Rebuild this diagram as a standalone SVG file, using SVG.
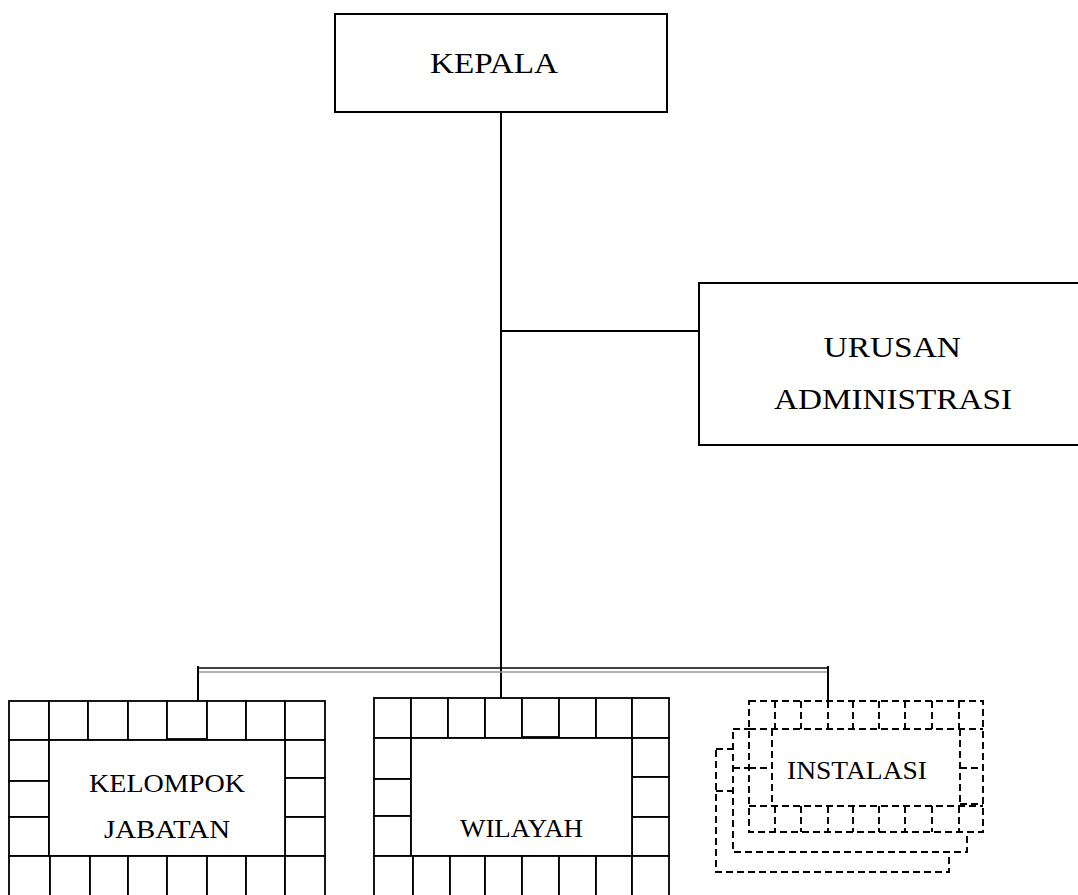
<svg xmlns="http://www.w3.org/2000/svg" width="1078" height="895" viewBox="0 0 1078 895">
<style>
.box{fill:#fff;stroke:#000;stroke-width:2}
.cell{fill:#fff;stroke:#000;stroke-width:1.8}
.dash{fill:#fff;stroke:#000;stroke-width:1.9;stroke-dasharray:7 4}
.dl{fill:none;stroke:#000;stroke-width:1.9;stroke-dasharray:7 4}
.ln{fill:none;stroke:#000;stroke-width:2}
.t{font-family:"Liberation Serif","Times New Roman",serif;fill:#000}
</style>
<rect width="1078" height="895" fill="#fff"/>
<g id="connectors">
  <line class="ln" x1="501" y1="112" x2="501" y2="698"/>
  <line class="ln" x1="501" y1="331" x2="699" y2="331"/>
  <line x1="198" y1="668" x2="828" y2="668" stroke="#000" stroke-width="1.3"/>
  <line x1="199" y1="672" x2="827" y2="672" stroke="#999" stroke-width="1.6"/>
  <line class="ln" x1="198" y1="666" x2="198" y2="701"/>
  <line class="ln" x1="828" y1="666" x2="828" y2="701"/>
</g>
<g id="kepala">
  <rect class="box" x="335" y="14" width="332" height="98"/>
  <text class="t" x="430" y="73" font-size="29" textLength="128" lengthAdjust="spacingAndGlyphs">KEPALA</text>
</g>
<g id="urusan-administrasi">
  <rect class="box" x="699" y="283" width="390" height="162"/>
  <text class="t" x="823.5" y="357" font-size="30" textLength="137.5" lengthAdjust="spacingAndGlyphs">URUSAN</text>
  <text class="t" x="774" y="409" font-size="30" textLength="238" lengthAdjust="spacingAndGlyphs">ADMINISTRASI</text>
</g>
<g id="kelompok-jabatan">
  <rect class="cell" x="9" y="701" width="40" height="39"/>
  <rect class="cell" x="49" y="701" width="39" height="39"/>
  <rect class="cell" x="88" y="701" width="40" height="39"/>
  <rect class="cell" x="128" y="701" width="39" height="39"/>
  <rect class="cell" x="167" y="701" width="40" height="38"/>
  <rect class="cell" x="207" y="701" width="39" height="39"/>
  <rect class="cell" x="246" y="701" width="39" height="39"/>
  <rect class="cell" x="285" y="701" width="40" height="39"/>
  <rect class="cell" x="9" y="740" width="40" height="41"/>
  <rect class="cell" x="9" y="781" width="40" height="36"/>
  <rect class="cell" x="9" y="817" width="40" height="39"/>
  <rect class="cell" x="285" y="740" width="40" height="38"/>
  <rect class="cell" x="285" y="778" width="40" height="39"/>
  <rect class="cell" x="285" y="817" width="40" height="39"/>
  <rect class="cell" x="49" y="740" width="236" height="116"/>
  <rect class="cell" x="9" y="856" width="41" height="50"/>
  <rect class="cell" x="50" y="856" width="40" height="50"/>
  <rect class="cell" x="90" y="856" width="38" height="50"/>
  <rect class="cell" x="128" y="856" width="39" height="50"/>
  <rect class="cell" x="167" y="856" width="40" height="50"/>
  <rect class="cell" x="207" y="856" width="39" height="50"/>
  <rect class="cell" x="246" y="856" width="39" height="50"/>
  <rect class="cell" x="285" y="856" width="40" height="50"/>
  <text class="t" x="89" y="792" font-size="25" textLength="156" lengthAdjust="spacingAndGlyphs">KELOMPOK</text>
  <text class="t" x="104" y="838" font-size="25" textLength="126" lengthAdjust="spacingAndGlyphs">JABATAN</text>
</g>
<g id="wilayah">
  <rect class="cell" x="374" y="698" width="37" height="40"/>
  <rect class="cell" x="411" y="698" width="37" height="40"/>
  <rect class="cell" x="448" y="698" width="37" height="40"/>
  <rect class="cell" x="485" y="698" width="37" height="40"/>
  <rect class="cell" x="522" y="698" width="37" height="39"/>
  <rect class="cell" x="559" y="698" width="37" height="40"/>
  <rect class="cell" x="596" y="698" width="36" height="40"/>
  <rect class="cell" x="632" y="698" width="37" height="40"/>
  <rect class="cell" x="374" y="738" width="37" height="41"/>
  <rect class="cell" x="374" y="779" width="37" height="37"/>
  <rect class="cell" x="374" y="816" width="37" height="40"/>
  <rect class="cell" x="632" y="738" width="37" height="39"/>
  <rect class="cell" x="632" y="777" width="37" height="40"/>
  <rect class="cell" x="632" y="817" width="37" height="39"/>
  <rect class="cell" x="411" y="738" width="221" height="118"/>
  <rect class="cell" x="374" y="856" width="39" height="50"/>
  <rect class="cell" x="413" y="856" width="37" height="50"/>
  <rect class="cell" x="450" y="856" width="35" height="50"/>
  <rect class="cell" x="485" y="856" width="37" height="50"/>
  <rect class="cell" x="522" y="856" width="37" height="50"/>
  <rect class="cell" x="559" y="856" width="37" height="50"/>
  <rect class="cell" x="596" y="856" width="36" height="50"/>
  <rect class="cell" x="632" y="856" width="37" height="50"/>
  <text class="t" x="460" y="837" font-size="25" textLength="123" lengthAdjust="spacingAndGlyphs">WILAYAH</text>
</g>
<g id="instalasi">
  <rect class="dash" x="716" y="749" width="233" height="123"/>
  <line class="dl" x1="716" y1="791" x2="733" y2="791"/>
  <rect class="dash" x="733" y="729" width="234" height="123"/>
  <line class="dl" x1="733" y1="768" x2="749" y2="768"/>
  <rect class="dash" x="749" y="701" width="234" height="131"/>
  <path class="dl" d="M775 701V729M801 701V729M828 701V729M853 701V729M879 701V729M905 701V729M932 701V729M959 701V729"/>
  <path class="dl" d="M749 729H983M749 806H983"/>
  <path class="dl" d="M775 806V832M801 806V832M828 806V832M853 806V832M879 806V832M905 806V832M932 806V832M959 806V832"/>
  <path class="dl" d="M772 729V806M960 729V806"/>
  <path class="dl" d="M749 768H772M960 768H983M960 804H983"/>
  <text class="t" x="787" y="779" font-size="26" textLength="140" lengthAdjust="spacingAndGlyphs">INSTALASI</text>
</g>
</svg>
